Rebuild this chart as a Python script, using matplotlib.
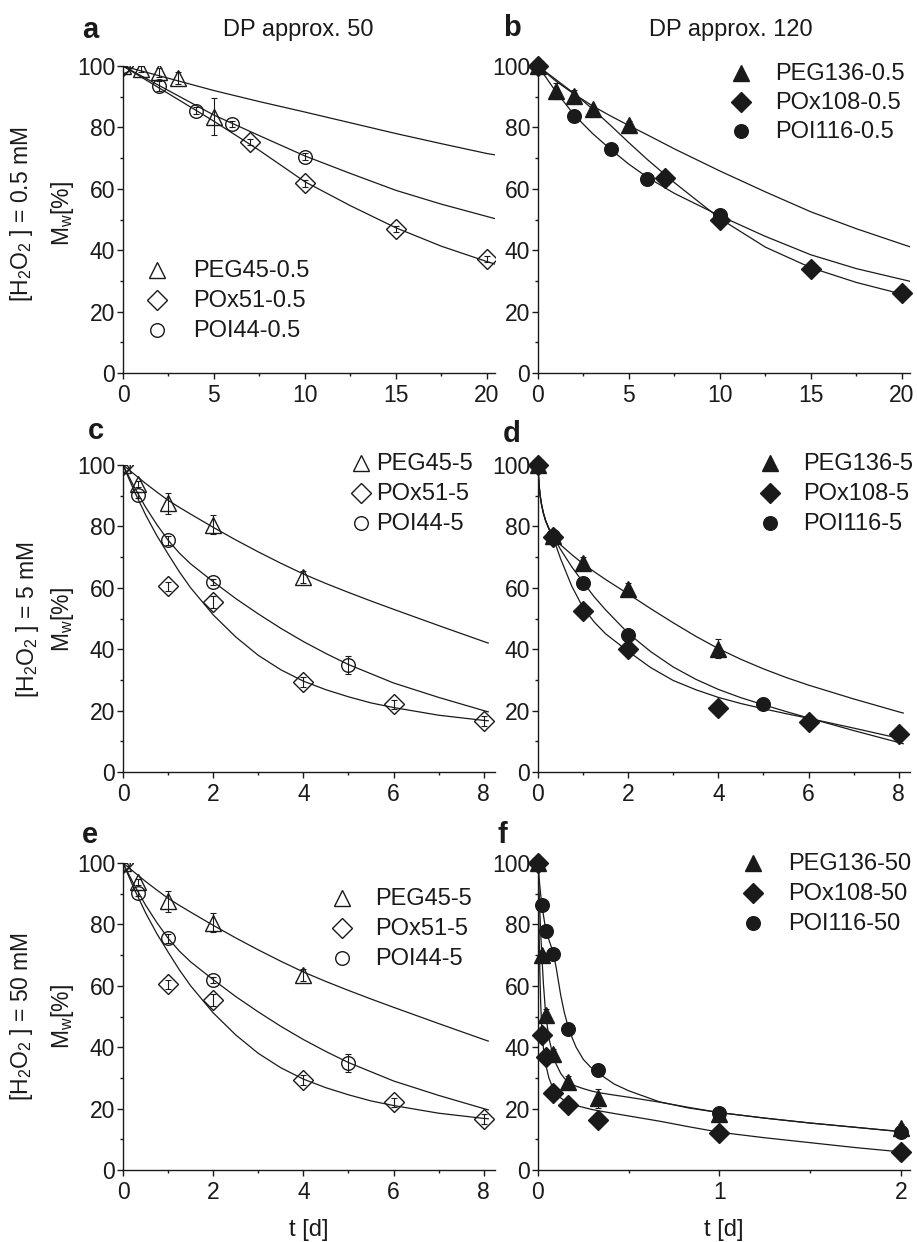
import numpy as np
import matplotlib
matplotlib.use("Agg")
from matplotlib import pyplot as plt
from matplotlib.ticker import MultipleLocator

plt.rcParams['font.family'] = ['Liberation Sans', 'DejaVu Sans']
plt.rcParams['mathtext.fontset'] = 'custom'
plt.rcParams['mathtext.rm'] = 'Liberation Sans'

# ---- data: panel a (DP 50, 0.5 mM) ----
a_peg_t = [0, 1, 2, 3, 5]
a_peg_m = [100, 98.9, 98, 96, 83.5]
a_peg_e = [0, 1, 1.5, 2, 6]
a_pox_t = [0, 7, 10, 15, 20]
a_pox_m = [100, 75.2, 61.8, 46.8, 37]
a_pox_e = [0, 1, 1.2, 1, 1]
a_poi_t = [0, 2, 4, 6, 10]
a_poi_m = [100, 93.5, 85.5, 81, 70.5]
a_poi_e = [0, 1.5, 1, 1, 1]
a_fit_t = [0, 2.5, 5, 7.5, 10, 12.5, 15, 17.5, 20, 20.5]
a_fit_peg = [100, 96, 92, 88.4, 85, 81.5, 78, 74.7, 71.5, 71]
a_fit_pox = [100, 91, 82, 72.5, 62.3, 54.5, 47.3, 41.3, 36.3, 35.4]
a_fit_poi = [100, 92, 84, 77.3, 70.7, 65, 59.5, 55, 51, 50.2]

# ---- panel b (DP 120, 0.5 mM) ----
b_peg_t = [0, 1, 2, 3, 5]
b_peg_m = [100, 91.8, 90.2, 86.1, 80.7]
b_peg_e = [0, 2.5, 2, 1, 1.5]
b_pox_t = [0, 7, 10, 15, 20]
b_pox_m = [100, 63.4, 49.8, 33.8, 26]
b_pox_e = [0, 0.5, 0.5, 0.5, 0.5]
b_poi_t = [0, 2, 4, 6, 10]
b_poi_m = [100, 83.6, 73.0, 63.2, 51.4]
b_poi_e = [0, 0.5, 0.5, 0.5, 0.5]
b_fit_t = [0, 1, 2, 3, 4, 5, 6, 7.5, 10, 12.5, 15, 17.5, 20, 20.5]
b_fit_peg = [100, 95, 90.8, 87, 83.7, 80.6, 77.6, 73, 65.8, 59, 52.5, 47, 42, 41]
b_fit_pox = [100, 95.5, 91, 86, 80.6, 75, 69.6, 62, 50.3, 41, 34.3, 29.5, 25.7, 25]
b_fit_poi = [100, 91.5, 84, 78, 72.8, 68, 63.8, 58.5, 51.2, 44.5, 38.5, 34, 30.5, 29.8]

# ---- panel c / e (DP 50, 5 mM) ----
c_peg_t = [0, 0.33, 1, 2, 4]
c_peg_m = [100, 93.8, 87.5, 80.6, 63.6]
c_peg_e = [0, 1, 3.4, 3, 2]
c_pox_t = [0, 1, 2, 4, 6, 8]
c_pox_m = [100, 60.5, 55.4, 29.3, 22.1, 16.6]
c_pox_e = [0, 1.5, 2, 1.5, 1.5, 1.5]
c_poi_t = [0, 0.33, 1, 2, 5]
c_poi_m = [100, 90.2, 75.5, 62.0, 34.8]
c_poi_e = [0, 1, 1.5, 1, 3]
c_fit_t = [0, 0.25, 0.5, 0.75, 1, 1.25, 1.5, 2, 2.5, 3, 3.5, 4, 4.5, 5, 5.5, 6, 7, 8, 8.1]
c_fit_peg = [100, 97, 94, 91.2, 88.5, 86.2, 84, 79.7, 75.6, 71.7, 68, 64.5, 61.4, 58.5,
             55.7, 53, 47.7, 42.5, 42]
c_fit_pox = [100, 91.5, 83.8, 77, 71, 65.2, 60, 51.2, 44, 38, 33.3, 29.6, 26.8, 24.5,
             22.5, 21, 18.5, 16.8, 16.7]
c_fit_poi = [100, 92.8, 86.3, 80.6, 75.5, 71.3, 67.8, 62, 56.5, 51.5, 46.8, 42.5, 38.6, 35,
             32, 29, 24.3, 20, 19.6]

# ---- panel d (DP 120, 5 mM) ----
d_peg_t = [0, 0.33, 1, 2, 4]
d_peg_m = [100, 76.8, 68.0, 59.5, 40.2]
d_peg_e = [0, 1, 2, 2, 3]
d_pox_t = [0, 0.33, 1, 2, 4, 6, 8]
d_pox_m = [100, 76.6, 52.5, 40.2, 20.9, 16.3, 12.5]
d_pox_e = [0, 0.5, 0.5, 0.5, 0.5, 0.5, 0.5]
d_poi_t = [0, 0.33, 1, 2, 5]
d_poi_m = [100, 76.8, 61.5, 44.6, 22.1]
d_poi_e = [0, 0.5, 0.5, 0.5, 0.5]
d_fit_t = [0, 0.01, 0.03, 0.05, 0.08, 0.12, 0.17, 0.25, 0.33, 0.5, 0.75, 1, 1.25, 1.5,
           2, 2.5, 3, 3.5, 4, 4.5, 5, 5.5, 6, 7, 8, 8.1]
d_fit_peg = [100, 96.5, 92.5, 89.8, 87, 84.3, 81.8, 79, 76.8, 74, 70.8, 67.8, 65.2, 62.7,
             58, 53.2, 48.6, 44.2, 40.2, 36.7, 33.6, 30.8, 28.3, 23.8, 19.6, 19.2]
d_fit_pox = [100, 96.5, 92.5, 89.8, 87, 84.3, 81.8, 79, 76.6, 69.5, 60.5, 53.5, 48.8, 45,
             39.3, 34, 29.8, 26.8, 24.3, 22.3, 20.6, 19, 17.5, 14.3, 11, 10.7]
d_fit_poi = [100, 96.5, 92.5, 89.8, 87, 84.3, 81.8, 79, 76.8, 72.5, 66.8, 61.8, 57, 52.8,
             45.2, 39.2, 34.2, 30.2, 26.9, 24.2, 21.9, 19.7, 17.6, 13.5, 9.6, 9.2]

# ---- panel f (DP 120, 50 mM) ----
f_t = [0, 0.021, 0.042, 0.083, 0.167, 0.333, 1, 2]
f_peg_m = [100, 70, 50.5, 37.8, 28.7, 23.3, 18.2, 13.6]
f_peg_e = [0, 1, 2, 1.5, 2, 3, 1, 1.5]
f_pox_m = [100, 44, 36.7, 25.2, 21.1, 16.2, 12.2, 5.9]
f_pox_e = [0, 1, 1, 0.5, 0.5, 0.5, 0.5, 0.5]
f_poi_m = [100, 86.2, 77.8, 70.4, 45.9, 32.5, 18.5, 12.4]
f_poi_e = [0, 1, 2, 1, 0.5, 0.5, 0.5, 0.5]
f_fit_t = [0, 0.005, 0.01, 0.015, 0.021, 0.03, 0.042, 0.06, 0.083, 0.1, 0.125, 0.145,
           0.167, 0.19, 0.21, 0.25, 0.29, 0.333, 0.42, 0.5, 0.67, 0.83, 1, 1.25, 1.5,
           1.75, 2, 2.03]
f_fit_peg = [100, 92, 84.5, 77, 70, 60.5, 51, 43, 37.2, 34.5, 31.5, 29.9,
             28.7, 27.8, 27.3, 26.5, 25.8, 25.2, 24.4, 23.7, 22.1, 20.4, 18.7, 16.9, 15.3,
             13.9, 12.5, 12.3]
f_fit_pox = [100, 80, 65, 54, 46, 39.5, 34.5, 30, 26.5, 25, 23.5, 22.6,
             22, 21.4, 21, 20.4, 19.8, 19.3, 18.4, 17.6, 15.9, 14.1, 12.3, 10.5, 8.9,
             7.3, 5.9, 5.7]
f_fit_poi = [100, 96, 92.5, 89.5, 87, 83, 78.5, 75, 71, 66, 57, 51.3,
             46.5, 42.8, 40, 36, 33.5, 31.5, 28, 25.8, 22.2, 20.2, 18.7, 16.9, 15.3,
             13.9, 12.5, 12.3]

labels_a = ['PEG45-0.5', 'POx51-0.5', 'POI44-0.5']
labels_b = ['PEG136-0.5', 'POx108-0.5', 'POI116-0.5']
labels_c = ['PEG45-5', 'POx51-5', 'POI44-5']
labels_d = ['PEG136-5', 'POx108-5', 'POI116-5']
labels_f = ['PEG136-50', 'POx108-50', 'POI116-50']

# ---- layout (pixels) ----
W, H = 917, 1242
fig = plt.figure(figsize=(W / 100, H / 100), dpi=100)
K = '#1a1a1a'
MARK = {'peg': ('^', 11), 'pox': ('D', 10.5), 'poi': ('o', 9.8)}


def px(x, y):
    return x / W, 1 - y / H


def make_ax(left, bottom, xmax, xmajor, xminor):
    ax = fig.add_axes([left / W, 1 - bottom / H, 372 / W, 307 / H])
    ax.set_xlim(0, xmax)
    ax.set_ylim(0, 100)
    for s in ['top', 'right']:
        ax.spines[s].set_visible(False)
    for s in ['left', 'bottom']:
        ax.spines[s].set_linewidth(1.0)
        ax.spines[s].set_color(K)
    ax.xaxis.set_major_locator(MultipleLocator(xmajor))
    ax.xaxis.set_minor_locator(MultipleLocator(xminor))
    ax.yaxis.set_major_locator(MultipleLocator(20))
    ax.yaxis.set_minor_locator(MultipleLocator(10))
    ax.tick_params(which='major', direction='out', length=4, width=1, labelsize=16.5,
                   colors=K)
    ax.tick_params(axis='x', which='major', pad=4)
    ax.tick_params(axis='y', which='major', pad=1.5)
    ax.tick_params(which='minor', direction='out', length=2.5, width=1, colors=K)
    ax.xaxis.set_major_formatter(matplotlib.ticker.FormatStrFormatter('%g'))
    return ax


def series(ax, t, m, err, kind, filled):
    mk, ms = MARK[kind]
    clip = not filled
    ax.errorbar(t, m, yerr=err, fmt='none', ecolor=K, elinewidth=0.8, capsize=2.5,
                capthick=0.8, clip_on=clip, zorder=3)
    ax.plot(t, m, ls='none', marker=mk, ms=ms, mec=K, mew=1.0,
            mfc=K if filled else 'none', clip_on=clip, zorder=4)


def fits(ax, t, curves):
    for c in curves:
        ax.plot(t, c, color=K, lw=0.9, zorder=2)


def legend(ax, xm, xt, rows, labels, filled):
    for kind, y, lab in zip(['peg', 'pox', 'poi'], rows, labels):
        mk, ms = MARK[kind]
        xf, yf = px(xm, y)
        ax.plot([xf], [yf], transform=fig.transFigure, ls='none', marker=mk, ms=ms,
                mec=K, mew=1.0, mfc=K if filled else 'none', clip_on=False)
        xf, yf = px(xt, y + 1)
        fig.text(xf, yf, lab, fontsize=17, va='center', ha='left', color=K)


# panel a
ax_a = make_ax(123, 373, 20.45, 5, 2.5)
fits(ax_a, a_fit_t, [a_fit_peg, a_fit_pox, a_fit_poi])
series(ax_a, a_peg_t, a_peg_m, a_peg_e, 'peg', False)
series(ax_a, a_pox_t, a_pox_m, a_pox_e, 'pox', False)
series(ax_a, a_poi_t, a_poi_m, a_poi_e, 'poi', False)
legend(ax_a, 157, 193, [270, 300, 330], labels_a, False)

# panel b
ax_b = make_ax(538, 373, 20.45, 5, 2.5)
fits(ax_b, b_fit_t, [b_fit_peg, b_fit_pox, b_fit_poi])
series(ax_b, b_peg_t, b_peg_m, b_peg_e, 'peg', True)
series(ax_b, b_pox_t, b_pox_m, b_pox_e, 'pox', True)
series(ax_b, b_poi_t, b_poi_m, b_poi_e, 'poi', True)
legend(ax_b, 741, 775, [73, 102, 131], labels_b, True)

# panel c
ax_c = make_ax(123, 772, 8.25, 2, 1)
fits(ax_c, c_fit_t, [c_fit_peg, c_fit_pox, c_fit_poi])
series(ax_c, c_peg_t, c_peg_m, c_peg_e, 'peg', False)
series(ax_c, c_pox_t, c_pox_m, c_pox_e, 'pox', False)
series(ax_c, c_poi_t, c_poi_m, c_poi_e, 'poi', False)
legend(ax_c, 361, 376, [463, 493, 523], labels_c, False)

# panel d
ax_d = make_ax(538, 772, 8.25, 2, 1)
fits(ax_d, d_fit_t, [d_fit_peg, d_fit_pox, d_fit_poi])
series(ax_d, d_peg_t, d_peg_m, d_peg_e, 'peg', True)
series(ax_d, d_pox_t, d_pox_m, d_pox_e, 'pox', True)
series(ax_d, d_poi_t, d_poi_m, d_poi_e, 'poi', True)
legend(ax_d, 770, 803, [463, 493, 523], labels_d, True)

# panel e (same series as c)
ax_e = make_ax(123, 1170, 8.25, 2, 1)
fits(ax_e, c_fit_t, [c_fit_peg, c_fit_pox, c_fit_poi])
series(ax_e, c_peg_t, c_peg_m, c_peg_e, 'peg', False)
series(ax_e, c_pox_t, c_pox_m, c_pox_e, 'pox', False)
series(ax_e, c_poi_t, c_poi_m, c_poi_e, 'poi', False)
legend(ax_e, 342, 375, [898, 928, 958], labels_c, False)

# panel f
ax_f = make_ax(538, 1170, 2.05, 1, 0.5)
fits(ax_f, f_fit_t, [f_fit_peg, f_fit_pox, f_fit_poi])
series(ax_f, f_t, f_peg_m, f_peg_e, 'peg', True)
series(ax_f, f_t, f_pox_m, f_pox_e, 'pox', True)
series(ax_f, f_t, f_poi_m, f_poi_e, 'poi', True)
legend(ax_f, 753, 788, [863, 893, 923], labels_f, True)

# panel letters
for lab, x, y in [('a', 82, 38), ('b', 503, 36), ('c', 88, 439),
                  ('d', 503, 442), ('e', 82, 843), ('f', 498, 843)]:
    xf, yf = px(x, y)
    fig.text(xf, yf, lab, fontsize=21, fontweight='bold', ha='left', va='baseline',
             color=K)

# column titles
xf, yf = px(298, 30)
fig.text(xf, yf, 'DP approx. 50', fontsize=17, ha='center', va='center', color=K)
xf, yf = px(731, 30)
fig.text(xf, yf, 'DP approx. 120', fontsize=17, ha='center', va='center', color=K)

# y labels
for conc, y, x1 in [('0.5', 214, 22), ('5', 620, 28), ('50', 1017, 22)]:
    xf, yf = px(x1, y)
    fig.text(xf, yf, r'[H$\mathregular{_2}$O$\mathregular{_2}$ ] = ' + conc + ' mM',
             fontsize=16.5, rotation=90, ha='center', va='center', color=K)
    xf, yf = px(62, y)
    fig.text(xf, yf, r'M$\mathregular{_w}$[%]', fontsize=16.5, rotation=90,
             ha='center', va='center', color=K)

# x labels
for x in [309, 724]:
    xf, yf = px(x, 1230)
    fig.text(xf, yf, 't [d]', fontsize=17, ha='center', va='center', color=K)

plt.savefig('out.png', dpi=100)
